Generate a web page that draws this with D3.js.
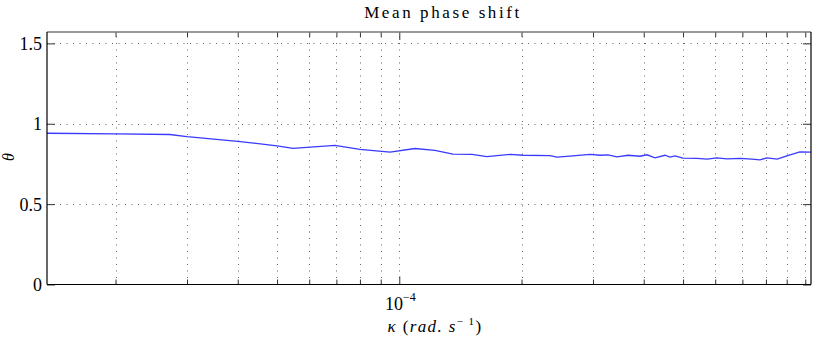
<!DOCTYPE html>
<html>
<head>
<meta charset="utf-8">
<script src="https://cdn.jsdelivr.net/npm/d3@7"></script>
<style>
  body { margin: 0; background: #fff; }
</style>
</head>
<body>
<svg id="chart"></svg>
<script>
// wavenumber (rad/s) and mean phase shift
const kappa = [1.356e-5, 2.0e-5, 2.72e-5, 3.0e-5, 4.0e-5, 5.0e-5, 5.47e-5, 6.94e-5, 8.0e-5, 9.49e-5,
  1.093e-4, 1.224e-4, 1.356e-4, 1.51e-4, 1.644e-4, 1.874e-4, 2.017e-4, 2.35e-4, 2.446e-4, 2.678e-4,
  2.95e-4, 3.12e-4, 3.266e-4, 3.438e-4, 3.66e-4, 3.917e-4, 4.075e-4, 4.264e-4, 4.512e-4, 4.642e-4,
  4.776e-4, 4.997e-4, 5.41e-4, 5.73e-4, 6.06e-4, 6.41e-4, 6.91e-4, 7.39e-4, 7.73e-4, 8.05e-4,
  8.52e-4, 9.01e-4, 9.70e-4, 1.033e-3];
const theta = [0.941, 0.937, 0.933, 0.920, 0.891, 0.862, 0.847, 0.865, 0.840, 0.823,
  0.846, 0.834, 0.811, 0.809, 0.796, 0.809, 0.804, 0.802, 0.792, 0.800,
  0.809, 0.804, 0.806, 0.794, 0.804, 0.798, 0.807, 0.788, 0.804, 0.792,
  0.800, 0.786, 0.784, 0.780, 0.788, 0.781, 0.784, 0.780, 0.775, 0.788,
  0.780, 0.800, 0.825, 0.823];

const xMajor = [1e-4];
const xMinor = [2e-5, 3e-5, 4e-5, 5e-5, 6e-5, 7e-5, 8e-5, 9e-5,
  2e-4, 3e-4, 4e-4, 5e-4, 6e-4, 7e-4, 8e-4, 9e-4, 1e-3];
const yTicks = [0, 0.5, 1, 1.5];
const yTickLabels = ["0", "0.5", "1", "1.5"];

const FONT = '"Liberation Serif", "DejaVu Serif", serif';

const width = 817, height = 337;
const margin = {top: 32, right: 6, bottom: 52.5, left: 47};
const innerW = width - margin.left - margin.right;
const innerH = height - margin.top - margin.bottom;

const svg = d3.select('#chart')
    .attr('width', width)
    .attr('height', height);

const chart = svg.append('g')
    .attr('transform', `translate(${margin.left}, ${margin.top})`);

const xscale = d3.scaleLog()
    .domain([1.356e-5, 1.033e-3])
    .range([0, innerW]);

const yscale = d3.scaleLinear()
    .domain([0, Math.PI / 2])
    .range([innerH, 0]);

// dotted grid
const grid = chart.append('g')
    .attr('stroke', '#666')
    .attr('stroke-width', 1)
    .attr('stroke-dasharray', '1,5.5');

grid.selectAll('.vg')
    .data(xMajor.concat(xMinor))
    .join('line')
    .attr('x1', d => Math.round(xscale(d)) + 0.5)
    .attr('x2', d => Math.round(xscale(d)) + 0.5)
    .attr('y1', innerH)
    .attr('y2', 0);

grid.selectAll('.hg')
    .data(yTicks.filter(d => d > 0))
    .join('line')
    .attr('x1', 0)
    .attr('x2', innerW)
    .attr('y1', d => Math.round(yscale(d)) + 0.5)
    .attr('y2', d => Math.round(yscale(d)) + 0.5);

// data line
const line = d3.line()
    .x((d, i) => xscale(kappa[i]))
    .y(d => yscale(d));

chart.append('path')
    .attr('d', line(theta))
    .attr('fill', 'none')
    .attr('stroke', '#3a3aff')
    .attr('stroke-width', 1.3);

// axes with inward ticks
const xBottom = chart.append('g')
    .attr('transform', `translate(0, ${innerH})`)
    .call(d3.axisBottom(xscale).tickValues(xMajor).tickSize(-8).tickFormat(''));
const xBottomMinor = chart.append('g')
    .attr('transform', `translate(0, ${innerH})`)
    .call(d3.axisBottom(xscale).tickValues(xMinor).tickSize(-5).tickFormat(''));
const xTop = chart.append('g')
    .call(d3.axisTop(xscale).tickValues(xMajor).tickSize(-8).tickFormat(''));
const xTopMinor = chart.append('g')
    .call(d3.axisTop(xscale).tickValues(xMinor).tickSize(-5).tickFormat(''));

const yLeft = chart.append('g')
    .call(d3.axisLeft(yscale).tickValues(yTicks).tickSize(-8).tickPadding(5)
        .tickFormat((d, i) => yTickLabels[i]));
const yRight = chart.append('g')
    .attr('transform', `translate(${innerW}, 0)`)
    .call(d3.axisRight(yscale).tickValues(yTicks).tickSize(-8).tickFormat(''));

[xBottom, xBottomMinor, xTop, xTopMinor, yLeft, yRight].forEach(g => {
    g.select('.domain').remove();
    g.selectAll('.tick line').attr('stroke', '#333');
});

yLeft.attr('font-family', null).attr('font-size', null);
yLeft.selectAll('.tick text')
    .attr('fill', '#000')
    .attr('x', -5)
    .style('font-family', FONT)
    .style('font-size', '18px')
    .attr('dy', '0.33em');

// frame
chart.append('line').attr('x1', 0).attr('x2', innerW).attr('y1', 0).attr('y2', 0)
    .attr('stroke', '#777').attr('stroke-width', 1.5);
chart.append('line').attr('x1', 0).attr('x2', innerW).attr('y1', innerH).attr('y2', innerH)
    .attr('stroke', '#000').attr('stroke-width', 1.2);
chart.append('line').attr('x1', 0).attr('x2', 0).attr('y1', 0).attr('y2', innerH)
    .attr('stroke', '#000').attr('stroke-width', 1.2);
chart.append('line').attr('x1', innerW).attr('x2', innerW).attr('y1', 0).attr('y2', innerH)
    .attr('stroke', '#000').attr('stroke-width', 1.2);

// 10^-4 label
xMajor.forEach(v => {
    const t = chart.append('text')
        .attr('x', xscale(v) + 1)
        .attr('y', innerH + 25)
        .attr('text-anchor', 'middle')
        .style('font-family', FONT)
        .style('font-size', '18px');
    t.append('tspan').text('10');
    t.append('tspan').attr('dy', -9).style('font-size', '12px').text('\u2212' + Math.round(-Math.log10(v)));
});

// title
svg.append('text')
    .attr('x', 443)
    .attr('y', 18)
    .attr('text-anchor', 'middle')
    .style('font-family', FONT)
    .style('font-size', '17px')
    .style('letter-spacing', '2.6px')
    .text('Mean phase shift');

// x label
const xl = svg.append('text')
    .attr('x', 435)
    .attr('y', 332)
    .attr('text-anchor', 'middle')
    .style('font-family', FONT)
    .style('font-size', '17px')
    .style('font-style', 'italic')
    .style('letter-spacing', '1.4px');
xl.append('tspan').text('\u03ba ');
xl.append('tspan').style('font-style', 'normal').text('(');
xl.append('tspan').text('rad. s');
xl.append('tspan').attr('dy', -7).style('font-size', '11px').style('font-style', 'normal').text('\u2212 1');
xl.append('tspan').attr('dy', 7).style('font-style', 'normal').text(')');

// y label
svg.append('text')
    .attr('transform', 'translate(14, 157) rotate(-90)')
    .attr('text-anchor', 'middle')
    .style('font-family', FONT)
    .style('font-size', '16px')
    .style('font-style', 'italic')
    .text('\u03b8');
</script>
</body>
</html>
